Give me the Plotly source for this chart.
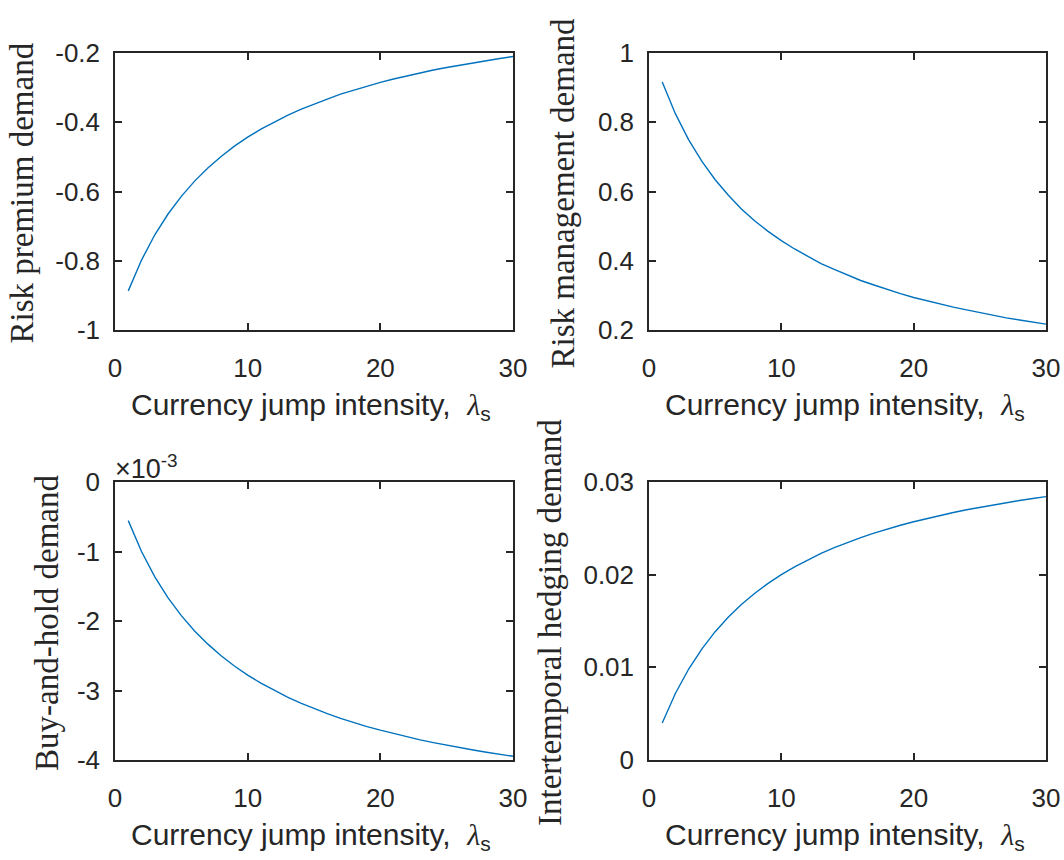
import plotly.graph_objects as go

# ---------------- data ----------------
lambda_s = list(range(1, 31))

risk_premium = [-0.887, -0.798, -0.725, -0.665, -0.614, -0.570, -0.532, -0.499, -0.469, -0.443,
                -0.420, -0.399, -0.380, -0.363, -0.347, -0.333, -0.319, -0.307, -0.296, -0.285,
                -0.275, -0.266, -0.257, -0.249, -0.242, -0.235, -0.228, -0.222, -0.216, -0.210]

risk_management = [0.916, 0.824, 0.749, 0.687, 0.634, 0.589, 0.549, 0.515, 0.485, 0.458,
                   0.434, 0.412, 0.392, 0.375, 0.358, 0.343, 0.330, 0.317, 0.305, 0.294,
                   0.284, 0.275, 0.266, 0.258, 0.250, 0.242, 0.235, 0.229, 0.223, 0.217]

buy_and_hold = [-0.556e-3, -1.000e-3, -1.364e-3, -1.667e-3, -1.923e-3, -2.143e-3, -2.333e-3, -2.500e-3,
                -2.647e-3, -2.778e-3, -2.895e-3, -3.000e-3, -3.095e-3, -3.182e-3, -3.261e-3, -3.333e-3,
                -3.400e-3, -3.462e-3, -3.519e-3, -3.571e-3, -3.621e-3, -3.667e-3, -3.710e-3, -3.750e-3,
                -3.788e-3, -3.824e-3, -3.857e-3, -3.889e-3, -3.919e-3, -3.947e-3]

intertemporal = [0.00400, 0.00720, 0.00982, 0.01200, 0.01385, 0.01543, 0.01680, 0.01800, 0.01906, 0.02000,
                 0.02084, 0.02160, 0.02229, 0.02291, 0.02348, 0.02400, 0.02448, 0.02492, 0.02533, 0.02571,
                 0.02607, 0.02640, 0.02671, 0.02700, 0.02727, 0.02753, 0.02777, 0.02800, 0.02822, 0.02842]

x_ticks = [0, 10, 20, 30]
x_tick_labels = ["0", "10", "20", "30"]

rp_ticks = [-1, -0.8, -0.6, -0.4, -0.2]
rp_tick_labels = ["-1", "-0.8", "-0.6", "-0.4", "-0.2"]
rm_ticks = [0.2, 0.4, 0.6, 0.8, 1]
rm_tick_labels = ["0.2", "0.4", "0.6", "0.8", "1"]
bh_ticks = [-0.004, -0.003, -0.002, -0.001, 0]
bh_tick_labels = ["-4", "-3", "-2", "-1", "0"]
ih_ticks = [0, 0.01, 0.02, 0.03]
ih_tick_labels = ["0", "0.01", "0.02", "0.03"]

y_titles = ["Risk premium demand", "Risk management demand",
            "Buy-and-hold demand", "Intertemporal hedging demand"]
x_title = "Currency jump intensity,"

# ---------------- layout geometry ----------------
W, H = 1064, 860
LINE = "#0072BD"
AX = "#262626"
SANS = "Liberation Sans, Arial, sans-serif"
SERIF = "Liberation Serif, Times New Roman, serif"

# plot areas in pixels (left, right, top, bottom)
boxes = [(115, 513, 53, 330), (649, 1046, 53, 330),
         (115, 513, 482, 760), (649, 1046, 482, 760)]

series = [risk_premium, risk_management, buy_and_hold, intertemporal]
yticks = [(rp_ticks, rp_tick_labels), (rm_ticks, rm_tick_labels),
          (bh_ticks, bh_tick_labels), (ih_ticks, ih_tick_labels)]
yranges = [[-1, -0.2], [0.2, 1], [-0.004, 0], [0, 0.03]]

fig = go.Figure()
layout = dict(width=W, height=H, margin=dict(l=0, r=0, t=0, b=0, autoexpand=False),
              paper_bgcolor="white", plot_bgcolor="white", showlegend=False,
              annotations=[])

for i, (box, ys, (tv, tt), yr) in enumerate(zip(boxes, series, yticks, yranges)):
    n = "" if i == 0 else str(i + 1)
    l, r, t, b = box
    fig.add_trace(go.Scatter(x=lambda_s, y=ys, mode="lines",
                             line=dict(color=LINE, width=1.4),
                             xaxis="x" + n, yaxis="y" + n, hoverinfo="skip"))
    common = dict(showline=True, linecolor=AX, linewidth=1.5, mirror="allticks",
                  ticks="inside", ticklen=7, tickwidth=1.5, tickcolor=AX,
                  showgrid=False, zeroline=False, automargin=False,
                  tickfont=dict(family=SANS, size=26, color=AX))
    layout["xaxis" + n] = dict(common, domain=[l / W, r / W], anchor="y" + n,
                               range=[0, 30], tickmode="array", tickvals=x_ticks,
                               ticktext=x_tick_labels, ticklabelstandoff=14)
    layout["yaxis" + n] = dict(common, domain=[1 - b / H, 1 - t / H], anchor="x" + n,
                               range=yr, tickmode="array", tickvals=tv, ticktext=tt,
                               ticklabelstandoff=8)
    # x axis title
    layout["annotations"].append(dict(
        xref="paper", yref="paper", x=((l + r) / 2 - 3) / W, y=1 - (b + 76) / H,
        xanchor="center", yanchor="middle", showarrow=False,
        text=x_title + "  <span style='font-family:Liberation Serif'><i>λ</i></span><sub>s</sub>",
        font=dict(family=SANS, size=30, color=AX)))

# y axis titles
ytitle_x = [22, 563, 47, 550]
for i, (box, txt, xc) in enumerate(zip(boxes, y_titles, ytitle_x)):
    l, r, t, b = box
    layout["annotations"].append(dict(
        xref="paper", yref="paper", x=xc / W, y=1 - ((t + b) / 2 + 2) / H,
        xanchor="center", yanchor="middle", showarrow=False, textangle=-90,
        text=txt, font=dict(family=SERIF, size=33, color=AX)))

# exponent label of the buy-and-hold panel
layout["annotations"].append(dict(
    xref="paper", yref="paper", x=113 / W, y=1 - 486 / H,
    xanchor="left", yanchor="bottom", showarrow=False,
    text="×10<sup>-3</sup>", font=dict(family=SANS, size=27, color=AX)))

fig.update_layout(**layout)
fig.write_html("out.html")
